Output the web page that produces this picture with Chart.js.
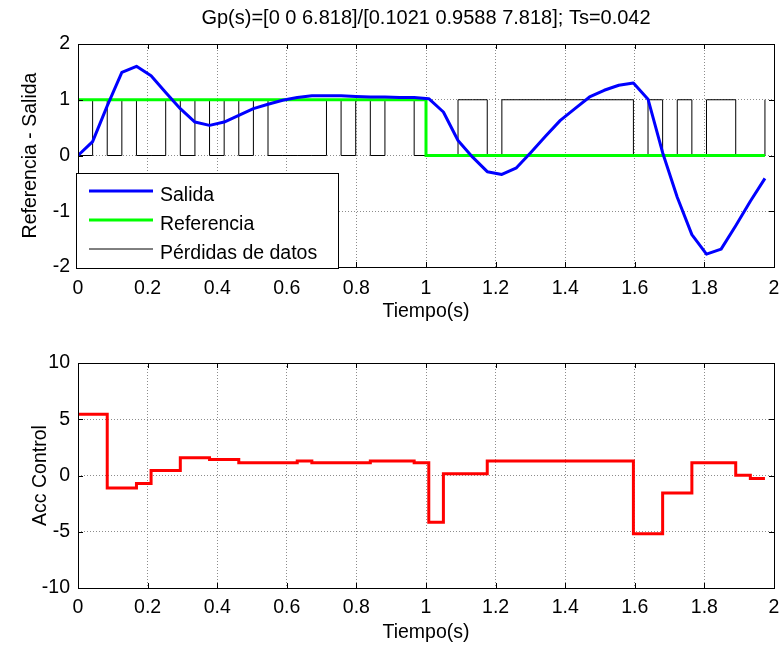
<!DOCTYPE html>
<html>
<head>
<meta charset="utf-8">
<script src="https://cdn.jsdelivr.net/npm/chart.js@4.4.0/dist/chart.umd.min.js"></script>
<style>
  html, body { margin: 0; padding: 0; background: #fff; }
  #wrap { position: relative; width: 782px; height: 646px; }
  .caja { position: absolute; left: 0; width: 782px; }
  #arriba { top: 0; height: 330px; }
  #abajo { top: 330px; height: 316px; }
</style>
</head>
<body>
<div id="wrap">
  <div class="caja" id="arriba"><canvas id="grafica1"></canvas></div>
  <div class="caja" id="abajo"><canvas id="grafica2"></canvas></div>
</div>
<script>
'use strict'

// datos (muestras cada Ts = 0.042 s)
var titulo = "Gp(s)=[0 0 6.818]/[0.1021 0.9588 7.818]; Ts=0.042";

var tiempo = [0, 0.042, 0.084, 0.126, 0.168, 0.21, 0.252, 0.294, 0.336, 0.378,
    0.42, 0.462, 0.504, 0.546, 0.588, 0.63, 0.672, 0.714, 0.756, 0.798,
    0.84, 0.882, 0.924, 0.966, 1.008, 1.05, 1.092, 1.134, 1.176, 1.218,
    1.26, 1.302, 1.344, 1.386, 1.428, 1.47, 1.512, 1.554, 1.596, 1.638,
    1.68, 1.722, 1.764, 1.806, 1.848, 1.89, 1.932, 1.974];

var salida = [0, 0.25, 0.89, 1.49, 1.60, 1.43, 1.13, 0.84, 0.60, 0.54,
    0.60, 0.72, 0.84, 0.92, 0.99, 1.04, 1.07, 1.07, 1.07, 1.06,
    1.05, 1.05, 1.04, 1.04, 1.02, 0.78, 0.27, -0.03, -0.29, -0.34,
    -0.22, 0.06, 0.35, 0.63, 0.84, 1.05, 1.17, 1.26, 1.30, 1.01,
    0.05, -0.75, -1.42, -1.77, -1.68, -1.26, -0.82, -0.41];

var perdidas = [0, 1, 0, 1, 0, 0, 1, 0, 1, 0,
    1, 0, 1, 0, 0, 0, 0, 1, 0, 1,
    0, 1, 1, 0, 0, 0, 1, 1, 0, 1,
    1, 1, 1, 1, 1, 1, 1, 1, 0, 1,
    0, 1, 0, 1, 1, 0, 0, 1];

var accControl = [5.45, 5.45, -1.1, -1.1, -0.72, 0.45, 0.45, 1.57, 1.57, 1.43,
    1.43, 1.13, 1.13, 1.13, 1.13, 1.28, 1.13, 1.13, 1.13, 1.13,
    1.28, 1.28, 1.28, 1.13, -4.15, 0.15, 0.15, 0.15, 1.28, 1.28,
    1.28, 1.28, 1.28, 1.28, 1.28, 1.28, 1.28, 1.28, -5.18, -5.18,
    -1.55, -1.55, 1.13, 1.13, 1.13, 0.02, -0.27, -0.27];

var refTiempo = [0, 1, 1, 1.974];
var referencia = [1, 1, 0, 0];

var ticksX = [0, 0.2, 0.4, 0.6, 0.8, 1, 1.2, 1.4, 1.6, 1.8, 2];
var ticksY1 = [-2, -1, 0, 1, 2];
var ticksY2 = [-10, -5, 0, 5, 10];

var fuente = '"Liberation Sans", Arial, Helvetica, sans-serif';
Chart.defaults.font.family = fuente;
Chart.defaults.font.size = 19.5;
Chart.defaults.color = '#000';

function puntos(xs, ys) {
    return xs.map(function (x, i) { return { x: x, y: ys[i] }; });
}

// marco negro con marcas de escala hacia dentro (estilo matlab)
var marco = {
    id: 'marco',
    afterDatasetsDraw: function (chart) {
        var ctx = chart.ctx, a = chart.chartArea, sx = chart.scales.x, sy = chart.scales.y;
        ctx.save();
        ctx.strokeStyle = '#000';
        ctx.lineWidth = 1;
        ctx.beginPath();
        sx.ticks.forEach(function (t) {
            var px = Math.round(sx.getPixelForValue(t.value)) + 0.5;
            ctx.moveTo(px, a.bottom); ctx.lineTo(px, a.bottom - 5);
            ctx.moveTo(px, a.top); ctx.lineTo(px, a.top + 5);
        });
        sy.ticks.forEach(function (t) {
            var py = Math.round(sy.getPixelForValue(t.value)) + 0.5;
            ctx.moveTo(a.left, py); ctx.lineTo(a.left + 5, py);
            ctx.moveTo(a.right, py); ctx.lineTo(a.right - 5, py);
        });
        ctx.stroke();
        ctx.strokeRect(a.left + 0.5, a.top + 0.5, a.right - a.left, a.bottom - a.top);
        ctx.restore();
    }
};

// leyenda dentro del grafico, abajo a la izquierda
var leyenda = {
    id: 'leyenda',
    afterDraw: function (chart) {
        var ctx = chart.ctx, a = chart.chartArea;
        var x0 = a.left - 2, y0 = a.bottom - 94, w = 262, h = 95;
        ctx.save();
        ctx.fillStyle = '#fff';
        ctx.fillRect(x0, y0, w, h);
        ctx.strokeStyle = '#000';
        ctx.lineWidth = 1;
        ctx.strokeRect(x0 + 0.5, y0 + 0.5, w, h);
        ctx.font = '19.5px ' + fuente;
        ctx.textBaseline = 'alphabetic';
        chart.data.datasets.forEach(function (ds, i) {
            var yy = y0 + 18 + i * 29;
            ctx.strokeStyle = ds.borderColor;
            ctx.lineWidth = ds.borderWidth;
            ctx.beginPath();
            ctx.moveTo(x0 + 13, yy);
            ctx.lineTo(x0 + 77, yy);
            ctx.stroke();
            ctx.fillStyle = '#000';
            ctx.fillText(ds.label, x0 + 84, yy + 9.5);
        });
        ctx.restore();
    }
};

function ejeX(alto, largoMarca, pieTitulo) {
    return {
        type: 'linear', min: 0, max: 2,
        afterBuildTicks: function (s) { s.ticks = ticksX.map(function (v) { return { value: v }; }); },
        afterFit: function (s) { s.height = alto; },
        grid: { color: '#8c8c8c', lineWidth: 1, drawTicks: true, tickLength: largoMarca, tickColor: 'rgba(0,0,0,0)' },
        border: { display: false, dash: [1, 2] },
        ticks: { padding: 0, maxRotation: 0, autoSkip: false, callback: function (v) { return String(v); } },
        title: { display: true, text: 'Tiempo(s)', padding: { top: 0, bottom: pieTitulo } }
    };
}

function ejeY(min, max, marcas, texto, sepTitulo) {
    return {
        min: min, max: max,
        afterBuildTicks: function (s) { s.ticks = marcas.map(function (v) { return { value: v }; }); },
        afterFit: function (s) { s.width = 78; },
        grid: { color: '#8c8c8c', lineWidth: 1, drawTicks: false },
        border: { display: false, dash: [1, 2] },
        ticks: { padding: 8, autoSkip: false, callback: function (v) { return String(v); } },
        title: { display: true, text: texto, padding: { top: sepTitulo, bottom: 0 } }
    };
}

new Chart(document.getElementById('grafica1'), {
    type: 'line',
    data: {
        datasets: [
            { label: 'Salida', data: puntos(tiempo, salida), borderColor: '#0000ff', borderWidth: 3, borderJoinStyle: 'round' },
            { label: 'Referencia', data: puntos(refTiempo, referencia), borderColor: '#00ff00', borderWidth: 3 },
            { label: 'Pérdidas de datos', data: puntos(tiempo, perdidas), borderColor: '#000000', borderWidth: 1, stepped: 'before' }
        ]
    },
    options: {
        responsive: true, maintainAspectRatio: false, animation: false, devicePixelRatio: 1,
        elements: { point: { radius: 0, hoverRadius: 0 }, line: { tension: 0 } },
        layout: { padding: { left: 0, right: 8, top: 0, bottom: 0 } },
        plugins: {
            legend: { display: false },
            tooltip: { enabled: false },
            title: { display: true, text: titulo, fullSize: false, font: { size: 20, weight: 'normal' }, padding: { top: 6, bottom: 14 } }
        },
        scales: {
            x: ejeX(63, 10, 6.3),
            y: ejeY(-2, 2, ticksY1, 'Referencia - Salida', 19.3)
        }
    },
    plugins: [marco, leyenda]
});

new Chart(document.getElementById('grafica2'), {
    type: 'line',
    data: {
        datasets: [
            { label: 'Acc Control', data: puntos(tiempo, accControl), borderColor: '#ff0000', borderWidth: 3, stepped: 'before' }
        ]
    },
    options: {
        responsive: true, maintainAspectRatio: false, animation: false, devicePixelRatio: 1,
        elements: { point: { radius: 0, hoverRadius: 0 }, line: { tension: 0 } },
        layout: { padding: { left: 0, right: 8, top: 33, bottom: 0 } },
        plugins: { legend: { display: false }, tooltip: { enabled: false } },
        scales: {
            x: ejeX(58, 7.5, 1.3),
            y: ejeY(-10, 10, ticksY2, 'Acc Control', 29.3)
        }
    },
    plugins: [marco]
});
</script>
</body>
</html>
